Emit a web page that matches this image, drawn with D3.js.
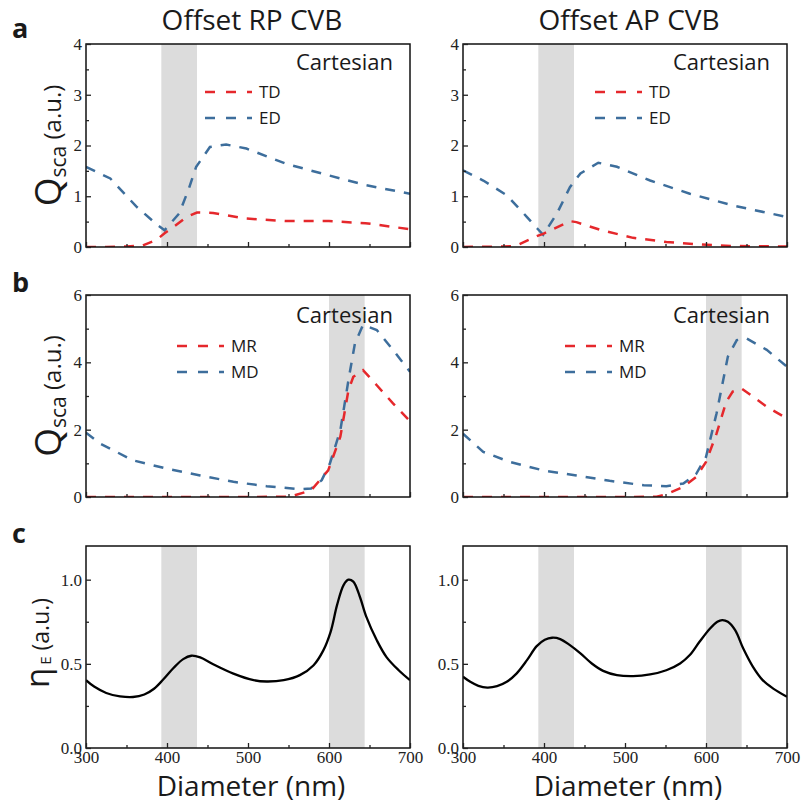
<!DOCTYPE html>
<html>
<head>
<meta charset="utf-8">
<script src="https://cdn.jsdelivr.net/npm/d3@7/dist/d3.min.js"></script>
<style>
  html, body { margin: 0; padding: 0; background: #fff; }
  svg { display: block; }
  .sans { font-family: "Open Sans", "Noto Sans", sans-serif; fill: #1a1a1a; }
  g.axis, g.axis text { font-family: "Liberation Serif", "Times New Roman", serif !important; font-size: 17px !important; }
</style>
</head>
<body>
<svg id="chart" width="802" height="808"></svg>
<script>
// Diameter axis and shaded resonance windows (nm)
const diameterDomain = [300, 700];
const diameterTicks = [300, 400, 500, 600, 700];
const diameterMinorTicks = [350, 450, 550, 650];
const bandTD = [393, 437];
const bandMD = [600, 644];

const columnTitles = ["Offset RP CVB", "Offset AP CVB"];
const rowLetters = ["a", "b", "c"];

// Row a: toroidal dipole (TD) and electric dipole (ED) scattering
const tdRP = [[300,0],[325,0],[350,0.01],[370,0.03],[387,0.14],[397,0.27],[410,0.42],[424,0.59],[437,0.68],[457,0.67],[498,0.56],[547,0.51],[600,0.51],[645,0.47],[700,0.35]];
const edRP = [[300,1.58],[330,1.35],[362,0.80],[387,0.45],[397,0.33],[415,0.66],[427,1.15],[436,1.58],[453,1.97],[473,2.02],[498,1.94],[547,1.64],[600,1.41],[645,1.22],[700,1.05]];
const tdAP = [[300,0],[350,0.01],[365,0.02],[392,0.22],[399,0.26],[432,0.51],[440,0.49],[469,0.34],[510,0.18],[551,0.10],[592,0.05],[633,0.02],[700,0.01]];
const edAP = [[300,1.51],[325,1.31],[354,1.02],[379,0.59],[392,0.36],[399,0.24],[416,0.66],[432,1.18],[445,1.45],[467,1.66],[490,1.58],[531,1.31],[580,1.05],[633,0.82],[700,0.59]];

// Row b: magnetic (MR) and magnetic dipole (MD) scattering
const mrRP = [[300,0],[350,0],[400,0],[450,0],[500,0],[552,0.01],[578,0.2],[599,0.79],[614,1.79],[624,3.17],[630,3.57],[642,3.77],[659,3.32],[679,2.78],[700,2.25]];
const mdRP = [[300,1.91],[317,1.59],[358,1.09],[400,0.84],[441,0.64],[482,0.45],[523,0.32],[564,0.23],[578,0.25],[591,0.5],[601,0.99],[614,1.98],[624,3.47],[632,4.56],[642,5.11],[659,4.96],[679,4.37],[700,3.72]];
const mrAP = [[300,0],[400,0],[500,0],[539,0.01],[551,0.08],[572,0.30],[588,0.6],[600,1.04],[613,1.88],[625,2.83],[633,3.13],[644,3.22],[658,2.98],[675,2.68],[700,2.33]];
const mdAP = [[300,1.88],[325,1.34],[358,1.04],[399,0.79],[440,0.64],[481,0.48],[523,0.35],[551,0.32],[572,0.40],[588,0.69],[600,1.19],[613,2.48],[627,4.17],[638,4.66],[650,4.71],[675,4.37],[700,3.87]];

// Row c: field enhancement eta_E
const etaRP = [[300,0.403],[310,0.365],[325,0.327],[342,0.307],[358,0.303],[372,0.318],[384,0.352],[395,0.405],[408,0.475],[420,0.528],[430,0.548],[441,0.538],[457,0.498],[482,0.442],[507,0.403],[523,0.395],[544,0.403],[564,0.433],[581,0.492],[593,0.58],[602,0.69],[610,0.85],[618,0.968],[624,1.0],[630,0.988],[638,0.90],[646,0.78],[659,0.64],[671,0.54],[686,0.462],[700,0.403]];
const etaAP = [[300,0.423],[309,0.393],[319,0.369],[330,0.359],[342,0.367],[354,0.393],[366,0.442],[379,0.522],[391,0.605],[401,0.643],[410,0.655],[420,0.647],[432,0.611],[445,0.562],[459,0.502],[473,0.458],[490,0.433],[510,0.427],[531,0.437],[551,0.462],[568,0.502],[580,0.552],[592,0.631],[605,0.71],[614,0.75],[620,0.76],[627,0.75],[636,0.70],[646,0.591],[658,0.482],[670,0.403],[683,0.353],[700,0.304]];

const rowA = { domain: [0, 4], ticks: [0, 1, 2, 3, 4], minor: [0.5, 1.5, 2.5, 3.5], fmt: d3.format("d") };
const rowB = { domain: [0, 6], ticks: [0, 2, 4, 6], minor: [1, 3, 5], fmt: d3.format("d") };
const rowC = { domain: [0, 1.2], ticks: [0, 0.5, 1.0], minor: [0.25, 0.75], fmt: d3.format(".1f") };

const RED = "#e5282c";
const BLUE = "#3d6e9c";
const SERIF = '"Liberation Serif", "Times New Roman", serif';

const svg = d3.select("#chart");

const columns = [{ x0: 86, x1: 410 }, { x0: 463, x1: 787 }];
const rows = [{ y0: 44, y1: 247 }, { y0: 295, y1: 497 }, { y0: 546, y1: 748 }];

const panels = [
  { row: 0, col: 0, axis: rowA, bands: [bandTD], series: [{ data: edRP, color: BLUE }, { data: tdRP, color: RED }], legend: { x: 205, names: ["TD", "ED"], colors: [RED, BLUE] } },
  { row: 0, col: 1, axis: rowA, bands: [bandTD], series: [{ data: edAP, color: BLUE }, { data: tdAP, color: RED }], legend: { x: 595, names: ["TD", "ED"], colors: [RED, BLUE] } },
  { row: 1, col: 0, axis: rowB, bands: [bandMD], series: [{ data: mdRP, color: BLUE }, { data: mrRP, color: RED }], legend: { x: 177, names: ["MR", "MD"], colors: [RED, BLUE] } },
  { row: 1, col: 1, axis: rowB, bands: [bandMD], series: [{ data: mdAP, color: BLUE }, { data: mrAP, color: RED }], legend: { x: 565, names: ["MR", "MD"], colors: [RED, BLUE] } },
  { row: 2, col: 0, axis: rowC, bands: [bandTD, bandMD], series: [{ data: etaRP, color: "#000", solid: true }] },
  { row: 2, col: 1, axis: rowC, bands: [bandTD, bandMD], series: [{ data: etaAP, color: "#000", solid: true }] }
];

function styleTicks(sel) {
  sel.attr("class", "axis").attr("font-family", SERIF).attr("font-size", 17);
  sel.select(".domain").remove();
  sel.selectAll(".tick line").attr("stroke", "#222").attr("stroke-width", 1.3);
  sel.selectAll(".tick text")
    .attr("font-family", SERIF).attr("font-size", 17)
    .style("font-family", SERIF).style("font-size", "17px").attr("fill", "#222");
}

panels.forEach((p, i) => {
  const c = columns[p.col], r = rows[p.row];
  const x = d3.scaleLinear().domain(diameterDomain).range([c.x0, c.x1]);
  const y = d3.scaleLinear().domain(p.axis.domain).range([r.y1, r.y0]);
  const g = svg.append("g");

  const clipId = "clip" + i;
  svg.append("clipPath").attr("id", clipId)
    .append("rect").attr("x", c.x0).attr("y", r.y0).attr("width", c.x1 - c.x0).attr("height", r.y1 - r.y0);

  // shaded windows
  g.selectAll("rect.band").data(p.bands).join("rect")
    .attr("class", "band")
    .attr("x", d => x(d[0])).attr("width", d => x(d[1]) - x(d[0]))
    .attr("y", r.y0).attr("height", r.y1 - r.y0)
    .attr("fill", "#dcdcdc");

  // curves
  const plot = g.append("g").attr("clip-path", `url(#${clipId})`);
  p.series.forEach(s => {
    const line = d3.line().x(d => x(d[0])).y(d => y(d[1]))
      .curve(s.solid ? d3.curveCatmullRom.alpha(0.5) : d3.curveLinear);
    plot.append("path").datum(s.data)
      .attr("d", line)
      .attr("fill", "none")
      .attr("stroke", s.color)
      .attr("stroke-width", s.solid ? 2.3 : 2.5)
      .attr("stroke-dasharray", s.solid ? null : "10,9");
  });

  // frame
  g.append("rect").attr("x", c.x0).attr("y", r.y0)
    .attr("width", c.x1 - c.x0).attr("height", r.y1 - r.y0)
    .attr("fill", "none").attr("stroke", "#111").attr("stroke-width", 1.5);

  // bottom axis, ticks pointing inward
  const xAxis = d3.axisBottom(x).tickValues(diameterTicks).tickSizeInner(-5).tickSizeOuter(0).tickPadding(3);
  if (p.row < 2) xAxis.tickFormat("");
  const xg = g.append("g").attr("transform", `translate(0,${r.y1})`).call(xAxis);
  styleTicks(xg);
  const xm = g.append("g").attr("transform", `translate(0,${r.y1})`)
    .call(d3.axisBottom(x).tickValues(diameterMinorTicks).tickSizeInner(-3).tickSizeOuter(0).tickFormat(""));
  styleTicks(xm);

  // left axis
  const yAxis = d3.axisLeft(y).tickValues(p.axis.ticks).tickSizeInner(-5).tickSizeOuter(0).tickPadding(4).tickFormat(p.axis.fmt);
  const yg = g.append("g").attr("transform", `translate(${c.x0},0)`).call(yAxis);
  styleTicks(yg);
  const ym = g.append("g").attr("transform", `translate(${c.x0},0)`)
    .call(d3.axisLeft(y).tickValues(p.axis.minor).tickSizeInner(-3).tickSizeOuter(0).tickFormat(""));
  styleTicks(ym);

  // "Cartesian" tag and legend
  if (p.legend) {
    g.append("text").attr("class", "sans")
      .attr("x", c.x1 - 17).attr("y", r.y0 + (p.row === 0 ? 26 : 28))
      .attr("text-anchor", "end").attr("font-size", 22).text("Cartesian");
    p.legend.names.forEach((name, k) => {
      const ly = r.y0 + (p.row === 0 ? 48 : 51) + k * 26;
      g.append("line").attr("x1", p.legend.x).attr("x2", p.legend.x + 47)
        .attr("y1", ly).attr("y2", ly)
        .attr("stroke", p.legend.colors[k]).attr("stroke-width", 2.5)
        .attr("stroke-dasharray", "10,11");
      g.append("text").attr("class", "sans")
        .attr("x", p.legend.x + 54).attr("y", ly + 6)
        .attr("font-size", 17).text(name);
    });
  }
});

// column titles
columnTitles.forEach((t, k) => {
  const c = columns[k];
  svg.append("text").attr("class", "sans")
    .attr("x", (c.x0 + c.x1) / 2 + 4).attr("y", 30)
    .attr("text-anchor", "middle").attr("font-size", 28).text(t);
});

// row letters
rowLetters.forEach((t, k) => {
  svg.append("text").attr("class", "sans")
    .attr("x", 12).attr("y", [38, 292, 543][k])
    .attr("font-size", 27).attr("font-weight", "bold").text(t);
});

// y axis titles
[0, 1].forEach(k => {
  const r = rows[k];
  const t = svg.append("text").attr("class", "sans")
    .attr("transform", `translate(61,${(r.y0 + r.y1) / 2}) rotate(-90)`)
    .attr("text-anchor", "middle");
  t.append("tspan").attr("font-size", 37).text("Q");
  t.append("tspan").attr("font-size", 21).attr("dy", 5).text("sca");
  t.append("tspan").attr("font-size", 24).attr("dy", -5).text(" (a.u.)");
});
{
  const r = rows[2];
  const t = svg.append("text").attr("class", "sans")
    .attr("transform", `translate(49,${(r.y0 + r.y1) / 2 - 4}) rotate(-90)`)
    .attr("text-anchor", "middle");
  t.append("tspan").attr("font-size", 33).text("η");
  t.append("tspan").attr("font-size", 15).attr("dy", 2).attr("dx", 3).text("E");
  t.append("tspan").attr("font-size", 23).attr("dy", -2).text(" (a.u.)");
}

// x axis titles
columns.forEach(c => {
  svg.append("text").attr("class", "sans")
    .attr("x", (c.x0 + c.x1) / 2 + 3).attr("y", 796)
    .attr("text-anchor", "middle").attr("font-size", 28).text("Diameter (nm)");
});
</script>
</body>
</html>
